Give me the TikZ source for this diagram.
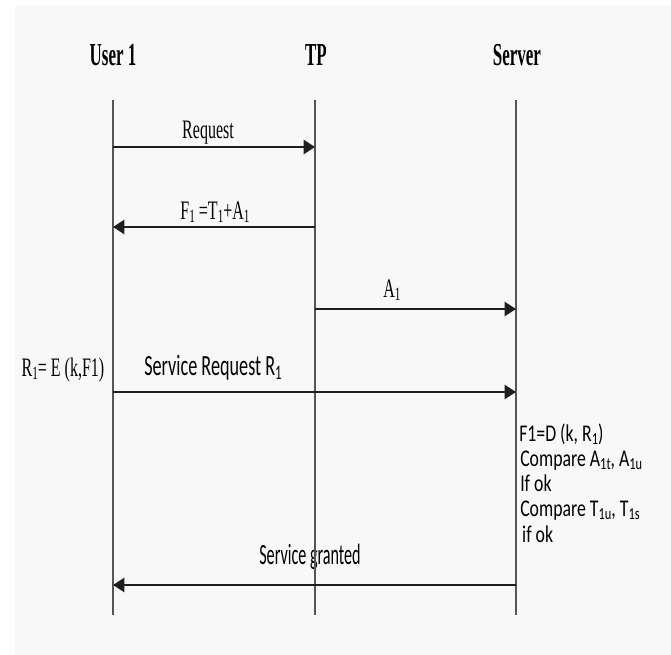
\documentclass[tikz,border=0pt]{standalone}
\usepackage{fontspec}
\usepackage{graphicx}
\setmainfont{Liberation Serif}
\newfontfamily\carlito{Carlito}
\usetikzlibrary{arrows.meta}

% narrow (horizontally squeezed) text
\newcommand\narrow[2]{\scalebox{#1}[1]{#2}}
\newcommand\hd[1]{\narrow{0.53}{\fontsize{24}{24}\selectfont\bfseries #1}}
\newcommand\sr[1]{\narrow{0.6}{\fontsize{20}{20}\selectfont #1}}
\newcommand\sn[2][0.55]{\narrow{#1}{\carlito\fontsize{22}{22}\selectfont #2}}
% small lowered index digits
\newcommand\lo[1]{\raisebox{-0.25ex}{\scalebox{0.7}{#1}}}

\definecolor{panel}{HTML}{F8F8F8}
\definecolor{msg}{HTML}{1E1E1E}
\definecolor{life}{HTML}{555555}

\tikzset{
  lbl/.style={inner sep=0pt, text=black},
  lifeline/.style={draw=life, line width=1.1pt},
  message/.style={draw=msg, line width=1.8pt,
    -{Triangle[length=8.5pt, width=10.5pt]}},
}

\begin{document}
\begin{tikzpicture}[x=0.75pt, y=-0.75pt]
  \useasboundingbox (0,0) rectangle (671,655);
  \fill[panel] (15,5) rectangle (671,655);

  % participants
  \node[lbl] (user) at (113,55) {\hd{User 1}};
  \node[lbl] (tp)   at (316,55) {\hd{TP}};
  \node[lbl] (srv)  at (517,55) {\hd{Server}};

  % lifeline ends
  \coordinate (uTop) at (113,100);  \coordinate (uBot) at (113,615);
  \coordinate (tTop) at (315,100);  \coordinate (tBot) at (315,615);
  \coordinate (sTop) at (516,100);  \coordinate (sBot) at (516,615);

  % message labels
  \node[lbl] (req)  at (208,133) {\sr{Request}};
  \node[lbl] (f1)   at (215,212) {\sr{F\lo{1} =T\lo{1}+A\lo{1}}};
  \node[lbl] (a1)   at (392,290) {\sr{A\lo{1}}};
  \node[lbl] (r1)   at (63,370)  {\sr{R\lo{1}= E (k,F1)}};
  \node[lbl] (sreq) at (213,368) {\sn[0.62]{Service Request R\lo{1}}};
  \node[lbl] (sg)   at (310,557) {\sn{Service granted}};

  % server side checks, one stacked block with tight leading
  \node[lbl, anchor=base west] (chk) at (519,542) {\narrow{0.74}{\vbox{%
      \carlito\fontsize{18}{18.9}\selectfont\lineskiplimit=-100pt
      \hbox{F1=D (k, R\lo{1})}
      \hbox{\kern1pt Compare A\lo{1t}, A\lo{1u}}
      \hbox{\kern1pt If ok}
      \hbox{\kern1pt Compare T\lo{1u}, T\lo{1s}}
      \hbox{\kern3pt if ok}}}};

  % lifelines
  \draw[lifeline] (uTop) -- (uBot);
  \draw[lifeline] (tTop) -- (tBot);
  \draw[lifeline] (sTop) -- (sBot);

  % message anchors on the lifelines
  \coordinate (m1u) at (113,147); \coordinate (m1t) at (315,147);
  \coordinate (m2u) at (113,227); \coordinate (m2t) at (315,227);
  \coordinate (m3t) at (315,309); \coordinate (m3s) at (516,309);
  \coordinate (m4u) at (113,392); \coordinate (m4s) at (516,392);
  \coordinate (m5u) at (113,585); \coordinate (m5s) at (516,585);

  % messages
  \draw[message] (m1u) -- (m1t);
  \draw[message] (m2t) -- (m2u);
  \draw[message] (m3t) -- (m3s);
  \draw[message] (m4u) -- (m4s);
  \draw[message] (m5s) -- (m5u);
\end{tikzpicture}
\end{document}
